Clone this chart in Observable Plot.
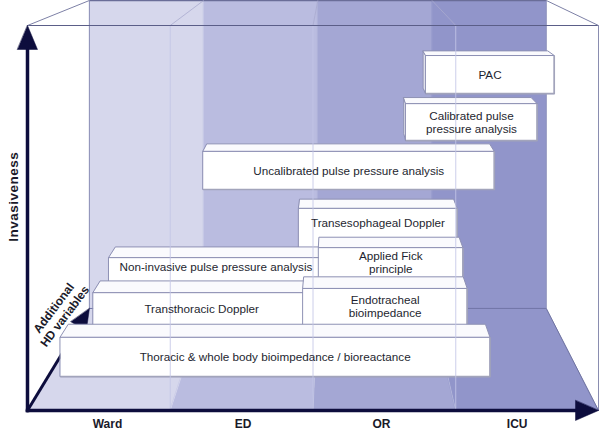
<!DOCTYPE html>
<html><head><meta charset="utf-8">
<script src="https://cdn.jsdelivr.net/npm/d3@7"></script>
<script src="https://cdn.jsdelivr.net/npm/@observablehq/plot@0.6"></script>
<style>body{margin:0;background:#fff;}</style>
</head><body><div id="chart"></div>
<script>
// ---- data ----
const settings = ["Ward", "ED", "OR", "ICU"];
const settingLabelPos = [0.56, 1.51, 2.48, 3.43];
const settingColors = ["#d6d7ec", "#babce0", "#a4a7d4", "#9195ca"];

// monitoring methods, listed back to front
const methods = [
  "PAC",
  "Calibrated pulse\npressure analysis",
  "Uncalibrated pulse pressure analysis",
  "Transesophageal Doppler",
  "Non-invasive pulse pressure analysis",
  "Applied Fick\nprinciple",
  "Transthoracic Doppler",
  "Endotracheal\nbioimpedance",
  "Thoracic & whole body bioimpedance / bioreactance"
];
const settingFrom  = [2.79, 2.65, 1.23, 1.90, 0.57, 2.04, 0.46, 1.93, 0.23];
const settingTo    = [3.69, 3.57, 3.27, 3.01, 2.07, 3.05, 1.98, 3.08, 3.24];
const invasiveLow  = [8.23, 7.01, 5.74, 4.16, 3.25, 3.25, 2.13, 2.13, 0.88];
const invasiveHigh = [9.22, 7.97, 6.73, 5.25, 3.97, 4.23, 3.06, 3.17, 1.90];

// ---- 3D frame (semantic units) ----
const NU = 4, NV = 10;            // settings span, invasiveness span
const VP = {u: 2.17, v: 13.25};   // vanishing point
const SHRINK = 0.2;               // scale loss at full depth
const DEPTH = 0.15;               // slab thickness of each method box
const KX = 142.75, KY = 38.5;     // px per unit (for arrowhead sizing only)

function proj(u, v, w) {
  const s = 1 - SHRINK * w;
  return {x: VP.u + (u - VP.u) * s, y: VP.v + (v - VP.v) * s};
}
const P = (arr) => arr.map(([u, v, w]) => proj(u, v, w));

const marks = [];
function poly(pts3, opts) {
  marks.push(Plot.line(P(pts3), {x: "x", y: "y", curve: "linear-closed", ...opts}));
}
function seg(pts3, opts) {
  marks.push(Plot.line(P(pts3), {x: "x", y: "y", strokeLinecap: "butt", ...opts}));
}
function toPx(p) { return [p.x * KX, -p.y * KY]; }
function fromPx(a) { return {x: a[0] / KX, y: -a[1] / KY}; }
function arrow(from, tip, len, half, width, color) {
  const [fx, fy] = toPx(from), [tx, ty] = toPx(tip);
  const d = Math.hypot(tx - fx, ty - fy), ux = (tx - fx) / d, uy = (ty - fy) / d;
  const bx = tx - ux * (len - 1), by = ty - uy * (len - 1);
  const hx = tx - ux * len, hy = ty - uy * len;
  marks.push(Plot.line([from, fromPx([bx, by])], {x: "x", y: "y", stroke: color, strokeWidth: width, strokeLinecap: "square"}));
  marks.push(Plot.line([fromPx([tx, ty]), fromPx([hx - uy * half, hy + ux * half]), fromPx([hx + uy * half, hy - ux * half])],
    {x: "x", y: "y", curve: "linear-closed", fill: color, stroke: color, strokeWidth: 0.5}));
}

// back wall and floor bands
settings.forEach((s, i) => {
  const c = settingColors[i];
  poly([[i, 0, 1], [i + 1, 0, 1], [i + 1, NV, 1], [i, NV, 1]], {fill: c, stroke: c, strokeWidth: 0.6});
  poly([[i, 0, 0], [i + 1, 0, 0], [i + 1, 0, 1], [i, 0, 1]], {fill: c, stroke: c, strokeWidth: 0.6});
});
// back frame lines
seg([[0, 0, 1], [0, NV, 1]], {stroke: "#8f92b8", strokeWidth: 1});
seg([[0, 0, 1], [NU, 0, 1]], {stroke: "#7377a8", strokeWidth: 1});
seg([[0, NV, 1], [NU, NV, 1]], {stroke: "#6a6d98", strokeWidth: 1.5});
seg([[NU, 0, 1], [NU, NV, 1]], {stroke: "#8f92b8", strokeWidth: 0.8});
for (let i = 1; i < NU; i++) seg([[i, NV, 0], [i, NV, 1]], {stroke: "#a9abcf", strokeWidth: 0.8});
for (let i = 1; i < NU; i++) seg([[i, 0, 0], [i, 0, 1]], {stroke: "#ffffff", strokeOpacity: 0.25, strokeWidth: 0.8});

// depth axis arrow (behind the boxes)
arrow(proj(0, 0, 0), proj(0, 0, 1), 21, 9, 3, "#0d0d3d");

// boxes
const boxes = methods.map((name, i) => ({
  name, from: settingFrom[i], to: settingTo[i], low: invasiveLow[i], high: invasiveHigh[i]
}));
boxes.forEach((b, i) => {
  let vis = b.low;
  for (let j = i + 1; j < boxes.length; j++) {
    const o = boxes[j];
    if (o.to <= b.from || o.from >= b.to) continue;
    const backTop = proj(0, o.high, DEPTH).y;
    if (backTop > vis && backTop < b.high) vis = backTop;
  }
  b.labelU = (b.from + b.to) / 2;
  b.labelV = (b.high + vis) / 2;
});
const edge = "#8e91b4";
boxes.forEach(b => {
  const {from: u0, to: u1, low: v0, high: v1} = b, w = DEPTH;
  if (u0 > VP.u) poly([[u0, v0, 0], [u0, v1, 0], [u0, v1, w], [u0, v0, w]], {fill: "#ececf3", stroke: edge, strokeWidth: 1});
  if (u1 < VP.u) poly([[u1, v0, 0], [u1, v1, 0], [u1, v1, w], [u1, v0, w]], {fill: "#ececf3", stroke: edge, strokeWidth: 1});
  poly([[u0, v1, 0], [u1, v1, 0], [u1, v1, w], [u0, v1, w]], {fill: "#fafafd", stroke: edge, strokeWidth: 1});
  poly([[u0, v0, 0], [u1, v0, 0], [u1, v1, 0], [u0, v1, 0]], {fill: "#ffffff", stroke: edge, strokeWidth: 1});
  seg([[u0, v0, 0], [u1, v0, 0], [u1, v1, 0]], {stroke: "#a2a4bb", strokeWidth: 1.6});
});

// column divider edges in front of the boxes
for (let i = 1; i < NU; i++) seg([[i, 0, 0], [i, NV, 0]], {stroke: "#c3c5e6", strokeOpacity: 0.85, strokeWidth: 1});

// front frame
seg([[0, NV, 0], [NU, NV, 0]], {stroke: "#5b5e88", strokeWidth: 1});
seg([[0, NV, 0], [0, NV, 1]], {stroke: "#7d80a6", strokeWidth: 1});
seg([[NU, NV, 0], [NU, NV, 1]], {stroke: "#7d80a6", strokeWidth: 1});
seg([[NU, 0, 0], [NU, NV, 0]], {stroke: "#8a8db0", strokeWidth: 1});
seg([[NU, 0, 0], [NU, 0, 1]], {stroke: "#6f73a0", strokeWidth: 1});

// main axes
arrow(proj(0, 0, 0), proj(0, NV, 0), 24, 10, 3.5, "#0d0d3d");
arrow(proj(0, 0, 0), proj(NU, 0, 0), 23, 10, 3.5, "#0d0d3d");

const font = "'Liberation Sans', Arial, Helvetica, sans-serif";
// method labels
marks.push(Plot.text(boxes, {
  x: "labelU", y: "labelV", text: "name", fontSize: 11.7, lineHeight: 1.1,
  fill: "#1e1f30", fontFamily: font
}));
// setting labels
marks.push(Plot.text(settings, {
  x: (d, i) => settingLabelPos[i], y: () => 0, text: d => d, dy: 14,
  fontSize: 12, fontWeight: "bold", fill: "#1a1a2a", fontFamily: font
}));
// axis titles
marks.push(Plot.text(["Invasiveness"], {
  x: () => 0, y: () => 5.55, text: d => d, dx: -14, rotate: -90,
  fontSize: 13.5, fontWeight: "bold", fill: "#1a1a2a", fontFamily: font
}));
const depthLabelAt = proj(0, 0, 0.75);
marks.push(Plot.text(["Additional\nHD variables"], {
  x: () => depthLabelAt.x, y: () => depthLabelAt.y, text: d => d, dx: -15, dy: -22, rotate: -53,
  fontSize: 12, fontWeight: "bold", lineHeight: 1.15, fill: "#1a1a2a", fontFamily: font
}));

const chart = Plot.plot({
  width: 600, height: 432,
  marginTop: 0, marginRight: 0, marginBottom: 0, marginLeft: 0,
  x: {domain: [-27 / KX, (600 - 27) / KX], axis: null},
  y: {domain: [-(432 - 410) / KY, 410 / KY], axis: null},
  style: {background: "white", fontFamily: font, overflow: "visible"},
  marks
});
document.getElementById("chart").append(chart);
d3.select(chart).selectAll("text").filter(function() { return this.textContent === "Invasiveness"; })
  .attr("letter-spacing", "0.5px");
</script>
</body></html>
